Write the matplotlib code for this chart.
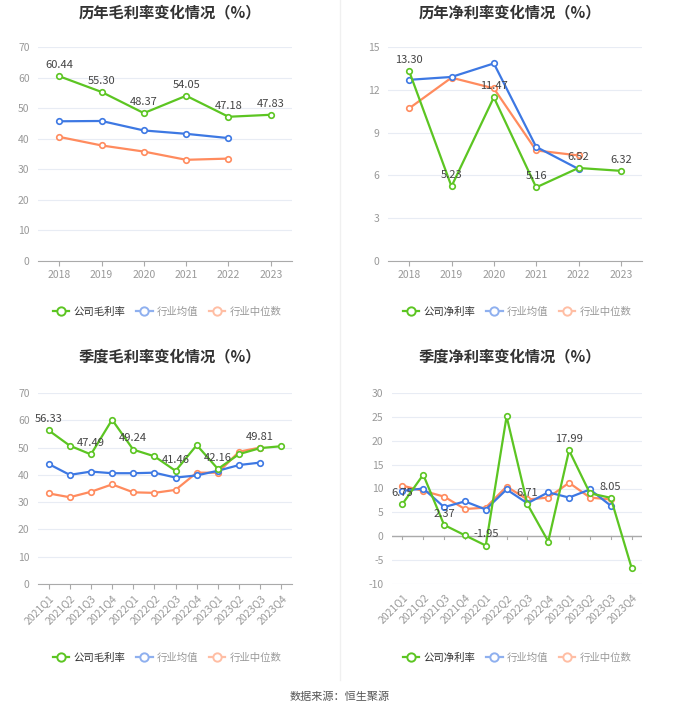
import matplotlib
matplotlib.use("Agg")
import matplotlib.pyplot as plt
from matplotlib.lines import Line2D

plt.rcParams['font.family'] = ['Noto Sans CJK SC', 'DejaVu Sans']

W, H = 680, 712

years = ["2018", "2019", "2020", "2021", "2022", "2023"]
quarters = ["2021Q1", "2021Q2", "2021Q3", "2021Q4", "2022Q1", "2022Q2",
            "2022Q3", "2022Q4", "2023Q1", "2023Q2", "2023Q3", "2023Q4"]

# annual gross margin
gross_company = [60.44, 55.30, 48.37, 54.05, 47.18, 47.83]
gross_avg = [45.7, 45.8, 42.7, 41.6, 40.2]
gross_median = [40.6, 37.8, 35.8, 33.1, 33.5]

# annual net margin
net_company = [13.30, 5.23, 11.47, 5.16, 6.52, 6.32]
net_avg = [12.7, 12.9, 13.85, 8.0, 6.45]
net_median = [10.7, 12.85, 12.1, 7.75, 7.4]

# quarterly gross margin
qgross_company = [56.33, 50.7, 47.49, 60.2, 49.24, 46.8, 41.46, 50.9, 42.16, 47.6, 49.81, 50.5]
qgross_avg = [44.0, 40.0, 41.2, 40.6, 40.6, 40.8, 39.0, 39.8, 41.5, 43.6, 44.5]
qgross_median = [33.2, 31.8, 33.8, 36.5, 33.6, 33.4, 34.5, 40.8, 40.8, 48.5, 50.0]

# quarterly net margin
qnet_company = [6.75, 12.9, 2.37, 0.2, -1.95, 25.1, 6.71, -1.1, 17.99, 9.0, 8.05, -6.6]
qnet_avg = [9.5, 10.0, 6.1, 7.3, 5.6, 9.8, 6.9, 9.2, 8.1, 9.8, 6.4]
qnet_median = [10.6, 9.5, 8.3, 5.7, 6.0, 10.4, 7.7, 8.1, 11.2, 8.1, 7.7]

GREEN = "#5cc522"
BLUE = "#3d78e3"
ORANGE = "#ff8b5e"
GRID = "#e8ecf4"
TICK = "#999999"

fig = plt.figure(figsize=(W / 100, H / 100), dpi=100)


def px_axes(x0, y0, x1, y1):
    return fig.add_axes([x0 / W, (H - y1) / H, (x1 - x0) / W, (y1 - y0) / H])


def draw_panel(ax, cats, company, avg, median, ylim, yticks, label_idx, rotate, zero_line=False):
    x = list(range(len(cats)))
    for vals, c, z in ((median, ORANGE, 2), (avg, BLUE, 3), (company, GREEN, 4)):
        ax.plot(x[:len(vals)], vals, color=c, lw=1.6, marker='o', ms=4,
                mfc='white', mec=c, mew=1.2, zorder=z)
    for i in label_idx:
        ax.annotate(f"{company[i]:.2f}", (i, company[i]), xytext=(0, 4.5),
                    textcoords='offset points', ha='center', va='bottom',
                    fontsize=8, color='#444444', zorder=6)
    ax.set_xlim(-0.5, len(cats) - 0.5)
    ax.set_ylim(*ylim)
    ax.set_yticks(yticks)
    ax.set_yticklabels([str(t) for t in yticks])
    ax.grid(axis='y', color=GRID, lw=0.8)
    ax.set_axisbelow(True)
    for s in ('top', 'right', 'left'):
        ax.spines[s].set_visible(False)
    ax.spines['bottom'].set_color('#aaaaaa')
    ax.tick_params(axis='y', length=0, labelsize=7.5, labelcolor=TICK, pad=6)
    ax.set_xticks(x)
    if rotate:
        ax.set_xticklabels(cats, rotation=45, ha='right', rotation_mode='anchor')
    else:
        ax.set_xticklabels(cats)
    ax.tick_params(axis='x', length=3.5, color='#aaaaaa', labelsize=7.5,
                   labelcolor=TICK, pad=3)
    if zero_line:
        ax.spines['bottom'].set_visible(False)
        ax.tick_params(axis='x', length=0, pad=6)
        ax.axhline(0, color='#aaaaaa', lw=1, zorder=1)
        for xi in x:
            ax.plot([xi, xi], [0, -0.5], color='#aaaaaa', lw=0.8, zorder=1)


def legend(cx, cy, name):
    handles = [
        Line2D([], [], color=GREEN, lw=1.6, marker='o', ms=6, mfc='white', mec=GREEN, mew=1.4),
        Line2D([], [], color="#8fb0ef", lw=1.6, marker='o', ms=6, mfc='white', mec="#8fb0ef", mew=1.4),
        Line2D([], [], color="#ffbea4", lw=1.6, marker='o', ms=6, mfc='white', mec="#ffbea4", mew=1.4),
    ]
    leg = fig.legend(handles, [name, "行业均值", "行业中位数"], loc='center',
                     bbox_to_anchor=(cx / W, 1 - cy / H), ncol=3, frameon=False,
                     fontsize=7.5, handlelength=1.6, handletextpad=0.4,
                     columnspacing=1.0)
    for t, c in zip(leg.get_texts(), ['#333333', '#999999', '#999999']):
        t.set_color(c)


ax1 = px_axes(38, 47, 292, 261)
draw_panel(ax1, years, gross_company, gross_avg, gross_median, (0, 70),
           list(range(0, 71, 10)), range(6), False)
ax2 = px_axes(388, 47, 642, 261)
draw_panel(ax2, years, net_company, net_avg, net_median, (0, 15),
           list(range(0, 16, 3)), range(6), False)
ax3 = px_axes(38, 393, 292, 584)
draw_panel(ax3, quarters, qgross_company, qgross_avg, qgross_median, (0, 70),
           list(range(0, 71, 10)), range(0, 12, 2), True)
ax4 = px_axes(392, 393, 642, 584)
draw_panel(ax4, quarters, qnet_company, qnet_avg, qnet_median, (-10, 30),
           list(range(-10, 31, 5)), range(0, 12, 2), True, zero_line=True)

title_kw = dict(ha='center', va='center', fontsize=11, fontweight='bold', color='#333333')
fig.text(170 / W, 1 - 12 / H, "历年毛利率变化情况（%）", **title_kw)
fig.text(510 / W, 1 - 12 / H, "历年净利率变化情况（%）", **title_kw)
fig.text(170 / W, 1 - 356 / H, "季度毛利率变化情况（%）", **title_kw)
fig.text(510 / W, 1 - 356 / H, "季度净利率变化情况（%）", **title_kw)

legend(167, 312, "公司毛利率")
legend(517, 312, "公司净利率")
legend(167, 658, "公司毛利率")
legend(517, 658, "公司净利率")

fig.add_artist(Line2D([340 / W, 340 / W], [1 - 680 / H, 1.0], color='#f0f0f0', lw=1))
fig.text(340 / W, 1 - 697 / H, "数据来源：恒生聚源", ha='center', va='center',
         fontsize=8, color='#555555')

fig.savefig("out.png", dpi=100, facecolor='white')
